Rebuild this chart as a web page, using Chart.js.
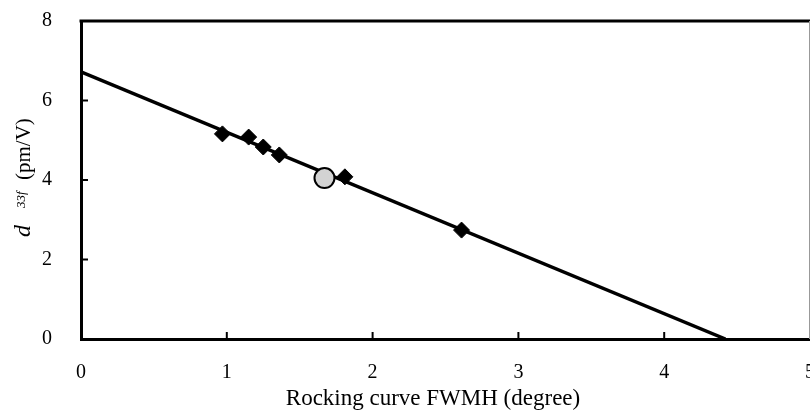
<!DOCTYPE html>
<html><head><meta charset="utf-8">
<script src="https://cdn.jsdelivr.net/npm/chart.js@4.4.1/dist/chart.umd.min.js"></script>
<style>html,body{margin:0;padding:0;background:#fff;overflow:hidden}#wrap{width:810px;height:420px;overflow:hidden}</style>
</head><body><div id="wrap"><canvas id="c" width="822" height="420"></canvas></div>
<script>
// Data
const fwhmDiamonds = [0.97, 1.15, 1.25, 1.36, 1.81, 2.61];
const d33Diamonds  = [5.16, 5.08, 4.83, 4.63, 4.08, 2.74];
const fwhmCircle = [1.67];
const d33Circle  = [4.05];
const fitX = [0, 4.42];
const fitY = [6.72, 0];
const xTicks = [0, 1, 2, 3, 4, 5];
const yTicks = [0, 2, 4, 6, 8];
const xTitle = 'Rocking curve FWMH (degree)';
const yTitleParts = ['d', '33f', '(pm/V)'];

const toPts = (xs, ys) => xs.map((x, i) => ({x, y: ys[i]}));
const serif = '"Liberation Serif", "Times New Roman", serif';

const framePlugin = {
  id: 'frame',
  afterDatasetsDraw(chart) {
    const {ctx, chartArea: a, scales} = chart;
    ctx.save();
    ctx.strokeStyle = '#000'; ctx.lineWidth = 3;
    ctx.beginPath(); ctx.moveTo(a.left - 1.5, a.top); ctx.lineTo(a.right, a.top); ctx.stroke();
    ctx.strokeStyle = '#999'; ctx.lineWidth = 1;
    ctx.beginPath(); ctx.moveTo(a.right - 0.5, a.top); ctx.lineTo(a.right - 0.5, a.bottom); ctx.stroke();
    ctx.strokeStyle = '#000'; ctx.lineWidth = 2;
    xTicks.forEach(v => {
      const px = scales.x.getPixelForValue(v);
      if (px <= a.left + 2 || px >= a.right - 2) return;
      ctx.beginPath(); ctx.moveTo(px, a.bottom); ctx.lineTo(px, a.bottom - 7); ctx.stroke();
    });
    yTicks.forEach(v => {
      const py = scales.y.getPixelForValue(v);
      if (py <= a.top + 2 || py >= a.bottom - 2) return;
      ctx.beginPath(); ctx.moveTo(a.left, py); ctx.lineTo(a.left + 7, py); ctx.stroke();
    });
    ctx.restore();
  },
  afterDraw(chart) {
    const {ctx} = chart;
    ctx.save();
    ctx.fillStyle = '#000';
    ctx.font = '23px ' + serif;
    ctx.textAlign = 'center'; ctx.textBaseline = 'alphabetic';
    ctx.fillText(xTitle, 433, 405);
    ctx.translate(30, 237);
    ctx.rotate(-Math.PI / 2);
    ctx.textAlign = 'left';
    ctx.font = 'italic 24px ' + serif; ctx.fillText(yTitleParts[0], 0, 0);
    ctx.font = 'italic 13px ' + serif; ctx.fillText(yTitleParts[1], 29, -5);
    ctx.font = '21px ' + serif; ctx.fillText(yTitleParts[2], 57, 0);
    ctx.restore();
  }
};

new Chart(document.getElementById('c'), {
  type: 'scatter',
  data: {
    datasets: [
      { label: 'circle', data: toPts(fwhmCircle, d33Circle), order: 0,
        pointStyle: 'circle', pointRadius: 10, backgroundColor: '#d3d3d3', borderColor: '#000', borderWidth: 2 },
      { label: 'diamonds', data: toPts(fwhmDiamonds, d33Diamonds), order: 1,
        pointStyle: 'rectRot', pointRadius: 8, backgroundColor: '#000', borderColor: '#000', borderWidth: 1 },
      { label: 'fit', type: 'line', data: toPts(fitX, fitY), order: 2,
        showLine: true, borderColor: '#000', borderWidth: 3.5, pointRadius: 0, fill: false, tension: 0 }
    ]
  },
  options: {
    responsive: false, animation: false, devicePixelRatio: 1,
    layout: { padding: { top: 21, right: 1, left: 0, bottom: 0 } },
    plugins: { legend: { display: false }, tooltip: { enabled: false } },
    scales: {
      x: {
        type: 'linear', min: 0, max: 5,
        afterBuildTicks: s => { s.ticks = xTicks.map(v => ({value: v})); },
        afterFit: s => { s.height = 81; s.paddingLeft = 0; s.paddingRight = 0; },
        grid: { display: false },
        border: { display: true, color: '#000', width: 3 },
        ticks: { color: '#000', font: { family: serif, size: 20 }, padding: 14, autoSkip: false, maxRotation: 0 }
      },
      y: {
        type: 'linear', min: 0, max: 8,
        afterBuildTicks: s => { s.ticks = yTicks.map(v => ({value: v})); },
        afterFit: s => { s.width = 81; s.paddingTop = 0; s.paddingBottom = 0; },
        grid: { display: false },
        border: { display: true, color: '#000', width: 3 },
        ticks: { color: '#000', font: { family: serif, size: 20 }, padding: 21 }
      }
    }
  },
  plugins: [framePlugin]
});
</script>
</body></html>
